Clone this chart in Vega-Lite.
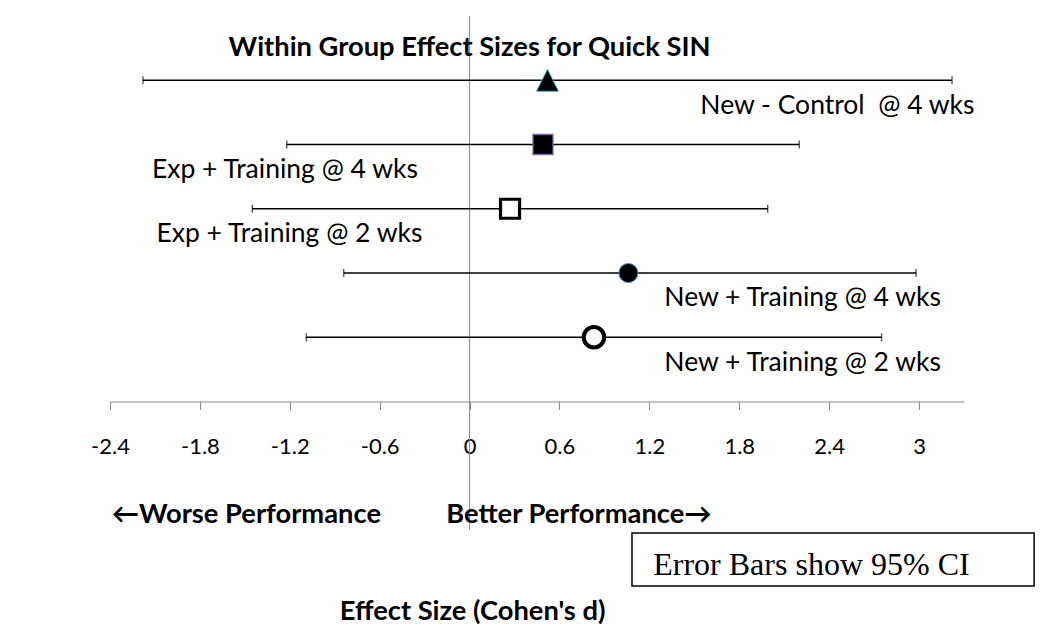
{
  "$schema": "https://vega.github.io/schema/vega-lite/v6.json",
  "width": 854,
  "height": 514,
  "autosize": {"type": "none"},
  "padding": {"left": 110, "top": 16, "right": 81, "bottom": 114},
  "background": "white",
  "config": {"view": {"stroke": null}, "font": "Lato", "axisY": {"disable": true}},
  "datasets": {
    "groups": [
      {"group": "New - Control \u00a0@ 4 wks", "row": 5, "d": 0.52, "lo": -2.18, "hi": 3.22, "lx": 1.54, "ly": 4.48},
      {"group": "Exp + Training @ 4 wks", "row": 4, "d": 0.49, "lo": -1.22, "hi": 2.2, "lx": -2.12, "ly": 3.48},
      {"group": "Exp + Training @ 2 wks", "row": 3, "d": 0.27, "lo": -1.45, "hi": 1.99, "lx": -2.09, "ly": 2.48},
      {"group": "New + Training @ 4 wks", "row": 2, "d": 1.06, "lo": -0.84, "hi": 2.98, "lx": 1.3, "ly": 1.48},
      {"group": "New + Training @ 2 wks", "row": 1, "d": 0.83, "lo": -1.09, "hi": 2.75, "lx": 1.3, "ly": 0.48}
    ]
  },
  "encoding": {
    "y": {"type": "quantitative", "scale": {"domain": [-2, 6], "nice": false, "zero": false}}
  },
  "layer": [
    {
      "data": {"values": [{"v": 0}]},
      "mark": {"type": "rule", "color": "#8a8a8a", "strokeWidth": 1},
      "encoding": {
        "x": {
          "field": "v", "type": "quantitative",
          "scale": {"domain": [-2.4, 3.3], "nice": false, "zero": false},
          "axis": {
            "orient": "bottom", "offset": -128.5, "title": null, "grid": false,
            "values": [-2.4, -1.8, -1.2, -0.6, 0, 0.6, 1.2, 1.8, 2.4, 3],
            "labelExpr": "'' + datum.value",
            "labelFlush": false, "labelOverlap": false,
            "domainColor": "#8a8a8a", "domainWidth": 1,
            "tickColor": "#8a8a8a", "tickSize": 8, "tickWidth": 1,
            "labelFont": "Lato", "labelFontSize": 22, "labelColor": "black",
            "labelBaseline": "alphabetic", "labelPadding": 44
          }
        },
        "y": null
      }
    },
    {
      "data": {"name": "groups"},
      "mark": {"type": "rule", "color": "black", "strokeWidth": 1.3},
      "encoding": {
        "x": {"field": "lo", "type": "quantitative"},
        "x2": {"field": "hi"},
        "y": {"field": "row", "type": "quantitative"}
      }
    },
    {
      "data": {"name": "groups"},
      "transform": [{"fold": ["lo", "hi"], "as": ["end", "val"]}],
      "mark": {"type": "tick", "orient": "vertical", "color": "black", "size": 8, "thickness": 1.3},
      "encoding": {
        "x": {"field": "val", "type": "quantitative"},
        "y": {"field": "row", "type": "quantitative"}
      }
    },
    {
      "data": {"name": "groups"},
      "transform": [{"filter": "datum.row == 5"}],
      "mark": {"type": "point", "shape": "M-1,1L0,-1L1,1Z", "fill": "black", "stroke": "#4bacc6", "strokeWidth": 1, "size": 484, "opacity": 1},
      "encoding": {"x": {"field": "d", "type": "quantitative"}, "y": {"field": "row", "type": "quantitative"}}
    },
    {
      "data": {"name": "groups"},
      "transform": [{"filter": "datum.row == 4"}],
      "mark": {"type": "point", "shape": "square", "fill": "black", "stroke": "#8064a2", "strokeWidth": 1.3, "size": 400, "opacity": 1},
      "encoding": {"x": {"field": "d", "type": "quantitative"}, "y": {"field": "row", "type": "quantitative"}}
    },
    {
      "data": {"name": "groups"},
      "transform": [{"filter": "datum.row == 3"}],
      "mark": {"type": "point", "shape": "square", "fill": "white", "stroke": "black", "strokeWidth": 3.2, "size": 361, "opacity": 1},
      "encoding": {"x": {"field": "d", "type": "quantitative"}, "y": {"field": "row", "type": "quantitative"}}
    },
    {
      "data": {"name": "groups"},
      "transform": [{"filter": "datum.row == 2"}],
      "mark": {"type": "point", "shape": "circle", "fill": "black", "stroke": "#4f81bd", "strokeWidth": 1, "size": 361, "opacity": 1},
      "encoding": {"x": {"field": "d", "type": "quantitative"}, "y": {"field": "row", "type": "quantitative"}}
    },
    {
      "data": {"name": "groups"},
      "transform": [{"filter": "datum.row == 1"}],
      "mark": {"type": "point", "shape": "circle", "fill": "white", "stroke": "black", "strokeWidth": 4, "size": 420, "opacity": 1},
      "encoding": {"x": {"field": "d", "type": "quantitative"}, "y": {"field": "row", "type": "quantitative"}}
    },
    {
      "data": {"name": "groups"},
      "mark": {"type": "text", "align": "left", "baseline": "alphabetic", "font": "Lato", "fontSize": 26.5, "color": "black"},
      "encoding": {
        "x": {"field": "lx", "type": "quantitative"},
        "y": {"field": "ly", "type": "quantitative"},
        "text": {"field": "group"}
      }
    },
    {
      "data": {"values": [
        {"note": "Within Group Effect Sizes for Quick SIN", "x": 0, "y": 5.378},
        {"note": "←Worse Performance", "x": -1.49, "y": -1.891},
        {"note": "Better Performance→", "x": 0.73, "y": -1.891},
        {"note": "Effect Size (Cohen's d)", "x": 0.02, "y": -3.4}
      ]},
      "mark": {"type": "text", "align": "center", "baseline": "alphabetic", "font": "Lato", "fontWeight": "bold", "fontSize": 27.3, "color": "black"},
      "encoding": {
        "x": {"field": "x", "type": "quantitative"},
        "y": {"field": "y", "type": "quantitative"},
        "text": {"field": "note"}
      }
    },
    {
      "data": {"values": [{"x1": 1.084, "x2": 3.768, "y1": -2.047, "y2": -2.872}]},
      "mark": {"type": "rect", "fill": "white", "stroke": "black", "strokeWidth": 1.5},
      "encoding": {
        "x": {"field": "x1", "type": "quantitative"},
        "x2": {"field": "x2"},
        "y": {"field": "y1", "type": "quantitative"},
        "y2": {"field": "y2"}
      }
    },
    {
      "data": {"values": [{"note": "Error Bars show 95% CI", "x": 1.226, "y": -2.7}]},
      "mark": {"type": "text", "align": "left", "baseline": "alphabetic", "font": "Liberation Serif", "fontSize": 32, "color": "black"},
      "encoding": {
        "x": {"field": "x", "type": "quantitative"},
        "y": {"field": "y", "type": "quantitative"},
        "text": {"field": "note"}
      }
    }
  ]
}
